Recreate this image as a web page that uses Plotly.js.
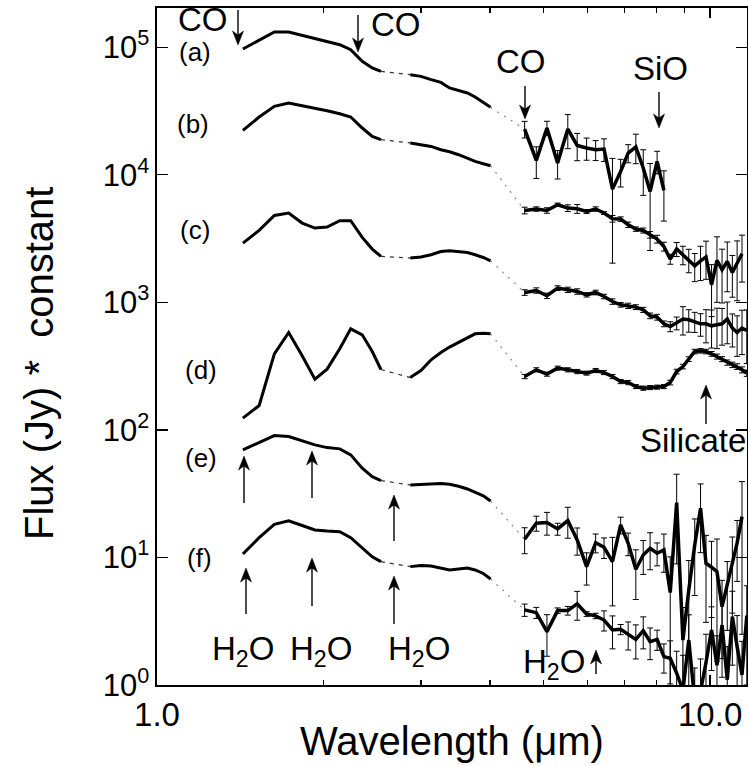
<!DOCTYPE html>
<html>
<head>
<meta charset="utf-8">
<script src="https://cdn.plot.ly/plotly-3.0.1.min.js"></script>
<style>html,body{margin:0;padding:0;background:#fff;}</style>
</head>
<body>
<div id="chart" style="width:748px;height:766px;"></div>
<script>
// Wavelength grids (micron)
const x1 = [1.43,1.53,1.63,1.73,1.83,1.93,2.03,2.14,2.24,2.35,2.45,2.54];
const x2 = [2.87,3.00,3.13,3.26,3.38,3.51,3.64,3.76,3.89,4.01];
const x3 = [4.62,4.85,5.07,5.30,5.53,5.75,5.98,6.21,6.43,6.66,6.89,7.11,7.34,7.57,7.79,8.02,8.25,8.47,8.70,8.93,9.15,9.38,9.61,9.83,10.06,10.29,10.51,10.74,10.97,11.19,11.42,11.65];

// Spectrum (a)
const a1 = [96800,113000,131600,131600,123800,116000,111000,104600,95600,77400,68700,64600];
const a2 = [60850,59050,55600,52970,47860,45840,43740,40650,36900,33730];
const a3 = [22810,12950,23240,12360,22810,16980,16190,15710,15910,7727,10610,14800,16500,11290,7396,12710,7530];
const a3err = [3400,3600,3000,3100,6800,4100,3200,2800,3200,5700,2600,2400,4300,4400,4850,2550,3200];
// Spectrum (b)
const b1 = [22250,28350,34350,36500,34760,33350,31770,30080,28350,23240,19970,18830];
const b2 = [17740,17280,16670,15710,15140,14350,13430,12710,12200,11770];
const b3 = [5250,5385,5250,5820,5480,5410,5155,5385,5010,4520,4494,4055,3750,3656,3383,3133,2740,2183,2614,2359,2154,1932,2115,2264,1372,2130,1798,2089,1713,2029,2400];
const b3err = [315,215,260,175,330,430,180,215,125,270,180,200,150,165,200,220,220,196,330,390,450,480,635,750,600,1130,810,880,617,1000,960];
// Spectrum (c)
const c1 = [2912,3660,4797,5010,4180,3820,3890,4357,4357,3224,2614,2287];
const c2 = [2222,2262,2359,2502,2535,2502,2459,2359,2245,2115];
const c3 = [1194,1238,1125,1292,1253,1216,1145,1194,1111,1014,956,939,917,873,784,765,678,646,687,739,729,707,678,678,654,666,678,739,628,580,628,601];
const c3err = [60,60,55,55,60,60,45,50,45,50,40,45,40,40,40,40,35,58,79,185,146,127,136,197,216,233,217,266,182,203,239,270];
// Spectrum (d)
const d1 = [123.6,155.2,394.6,579.6,380.5,250,299.3,431.9,619.8,556,411.3,297.2];
const d2 = [257,291.8,354,403.9,445.6,484,524,566,573,566];
const d3 = [262,295.6,273.5,304.8,295.6,286.6,278.6,291.9,281.3,262,239.3,235,218.6,212.4,214.7,216.3,218.6,235,286.6,313.7,358.5,411.3,416.6,411.3,394.6,375.7,358.5,337.2,323.6,313.7,295.6,278.6];
const d3err = [10,11,10,11,11,11,10,11,10,10,9,9,8,8,8,8,8,10,12,13,15,17,17,17,17,17,16,16,16,16,16,16];
// Spectrum (e)
const e1 = [69.7,79.5,90.2,88.6,82.4,76.3,72.6,71.0,63.7,50.1,43.0,40.0];
const e2 = [37.0,37.4,37.7,38.0,37.4,36.1,34.4,32.6,30.4,27.7];
const e3 = [13.89,18.55,18.75,16.73,19.44,13.72,8.47,13.06,12.02,9.27,17.98,12.92,8.08,10.46,11.81,10.79,11.45,5.30,26.9,2.25,5.56,12.53,24.3,9.0,8.38,7.74,4.11,5.98,9.06,12.99,20.9];
const e3err = [3.2,2.5,3.8,1.8,5.3,3.3,2.4,2.2,2.2,5.1,2.7,2.6,3.4,3.1,3.8,2.2,3.8,4.8,18,1.8,3.9,7.5,13.4,5.9,5,6.2,2.5,3.3,5.4,6.5,18.4];
// Spectrum (f)
const f1 = [10.65,14.3,18.2,19.4,17.8,16.4,16.1,15.9,14.3,11.8,10.1,9.27];
const f2 = [8.47,8.66,8.58,8.27,7.98,8.12,8.27,7.98,7.49,6.78];
const f3 = [3.88,3.69,2.62,3.83,3.83,4.32,3.60,3.48,3.23,2.70,2.73,2.50,2.28,2.67,2.19,2.28,1.67,1.62,1.24,0.91,2.25,0.76,0.9,1.5,2.7,1.43,2.95,1.1,3.43,2.0,1.2,3.5];
const f3err = [0.43,0.37,0.94,0.19,0.3,1.1,0.15,0.17,0.58,0.78,0.25,0.62,0.68,0.75,0.61,0.41,0.43,0.6,0.6,0.8,1.3,0.6,0.7,1.0,1.4,1.0,1.8,0.9,2.0,1.5,1.0,2.5];

const labels = ['(a)','(b)','(c)','(d)','(e)','(f)'];
const yTickVals = [1,10,100,1000,10000,100000];
const yTickText = ['10<sup>0</sup>','10<sup>1</sup>','10<sup>2</sup>','10<sup>3</sup>','10<sup>4</sup>','10<sup>5</sup>'];
const xTickVals = [1,10];
const xTickText = ['1.0','10.0'];

const spectra = [
  [a1,a2,a3,a3err],[b1,b2,b3,b3err],[c1,c2,c3,c3err],
  [d1,d2,d3,d3err],[e1,e2,e3,e3err],[f1,f2,f3,f3err]
];

const FONT = 'Liberation Sans, Arial, Helvetica, sans-serif';
const traces = [];
spectra.forEach(([s1,s2,s3,s3e]) => {
  const xs3 = x3.slice(0, s3.length);
  traces.push({x:x1, y:s1, mode:'lines', line:{color:'#000', width:3}, hoverinfo:'skip'});
  traces.push({x:[x1[x1.length-1], x2[0]], y:[s1[s1.length-1], s2[0]], mode:'lines',
               line:{color:'#333', width:1.2, dash:'4px,5px'}, hoverinfo:'skip'});
  traces.push({x:x2, y:s2, mode:'lines', line:{color:'#000', width:3}, hoverinfo:'skip'});
  traces.push({x:[x2[x2.length-1], x3[0]], y:[s2[s2.length-1], s3[0]], mode:'lines',
               line:{color:'#888', width:1.2, dash:'2px,6px'}, hoverinfo:'skip'});
  traces.push({x:xs3, y:s3, mode:'lines', line:{color:'#000', width:3.5},
               error_y:{type:'data', array:s3e, visible:true, color:'#000', thickness:1, width:3},
               hoverinfo:'skip'});
});

// pixel -> paper helpers for annotations (plot area: x 157..747, y 8..685)
const L = 157, R = 747, T = 8, B = 685;
const px = v => (v - L) / (R - L);
const py = v => (B - v) / (B - T);

const ann = [];
const shapes = [];
function txt(text, x, y, size) {
  ann.push({text:text, xref:'paper', yref:'paper', x:px(x), y:py(y), showarrow:false,
            xanchor:'center', yanchor:'middle', font:{family:FONT, size:size, color:'#000'}});
}
// vertical arrow drawn as a shaft + stealth head (pixel positions)
function arrow(x, yHead, yTail) {
  const dir = yTail > yHead ? 1 : -1;
  const hl = 14, hw = 5.5, notch = 10;
  shapes.push({type:'line', xref:'paper', yref:'paper', x0:px(x), x1:px(x),
               y0:py(yTail), y1:py(yHead + dir*notch), line:{color:'#000', width:1.4}});
  const p = (X, Y) => px(X).toFixed(5) + ',' + py(Y).toFixed(5);
  shapes.push({type:'path', xref:'paper', yref:'paper',
               path:'M' + p(x, yHead) + ' L' + p(x + hw, yHead + dir*hl) + ' L' + p(x, yHead + dir*notch) +
                    ' L' + p(x - hw, yHead + dir*hl) + ' Z',
               fillcolor:'#000', line:{color:'#000', width:0.5}});
}
const labelPos = [[195,52],[193,124],[195,230],[201,370],[201,458],[199,558]];
labels.forEach((t,i) => txt(t, labelPos[i][0], labelPos[i][1], 26));

txt('CO', 203, 19, 33);
arrow(238, 45, 10);
txt('CO', 396, 25, 33);
arrow(358, 52, 15);
txt('CO', 521, 61, 33);
arrow(525, 119, 86);
txt('SiO', 660, 69, 33);
arrow(659, 128, 92);
txt('Silicate', 693, 440, 33);
arrow(706, 385, 424);
txt('H<sub>2</sub>O', 243, 651, 33);
txt('H<sub>2</sub>O', 321, 651, 33);
txt('H<sub>2</sub>O', 419, 651, 33);
txt('H<sub>2</sub>O', 554, 664, 33);
arrow(244, 456, 503);
arrow(246, 568, 614);
arrow(312, 451, 498);
arrow(312, 558, 606);
arrow(394, 495, 541);
arrow(394, 576, 624);
arrow(596, 650, 674);

// axis titles
ann.push({text:'Flux (Jy) *\u00a0 constant', xref:'paper', yref:'paper', x:px(39), y:py(364),
          textangle:-90, showarrow:false, xanchor:'center', yanchor:'middle',
          font:{family:FONT, size:40, color:'#000'}});
ann.push({text:'Wavelength (\u03bcm)', xref:'paper', yref:'paper', x:px(452), y:py(741),
          showarrow:false, xanchor:'center', yanchor:'middle',
          font:{family:FONT, size:40, color:'#000'}});

const layout = {
  width:748, height:766,
  margin:{l:157, r:1, t:8, b:81},
  paper_bgcolor:'#fff', plot_bgcolor:'#fff',
  showlegend:false,
  font:{family:FONT, color:'#000'},
  xaxis:{
    type:'log', range:[0, Math.log10(11.66)],
    tickmode:'array', tickvals:xTickVals, ticktext:xTickText,
    ticks:'inside', ticklen:10, tickwidth:1.3, tickcolor:'#000',
    minor:{tickmode:'array', tickvals:[2,3,4,5,6,7,8,9], ticks:'inside', ticklen:5, tickwidth:1.2, tickcolor:'#000'},
    showline:true, linecolor:'#000', linewidth:1.6, mirror:'ticks',
    showgrid:false, zeroline:false,
    tickfont:{family:FONT, size:33, color:'#000'}
  },
  yaxis:{
    type:'log', range:[0, 5.307],
    tickmode:'array', tickvals:yTickVals, ticktext:yTickText,
    ticks:'inside', ticklen:11, tickwidth:1.3, tickcolor:'#000',
    showline:true, linecolor:'#000', linewidth:1.6, mirror:'ticks',
    showgrid:false, zeroline:false,
    tickfont:{family:FONT, size:31, color:'#000'}
  },
  annotations:ann,
  shapes:shapes
};

Plotly.newPlot('chart', traces, layout, {displayModeBar:false, staticPlot:true});
</script>
</body>
</html>
